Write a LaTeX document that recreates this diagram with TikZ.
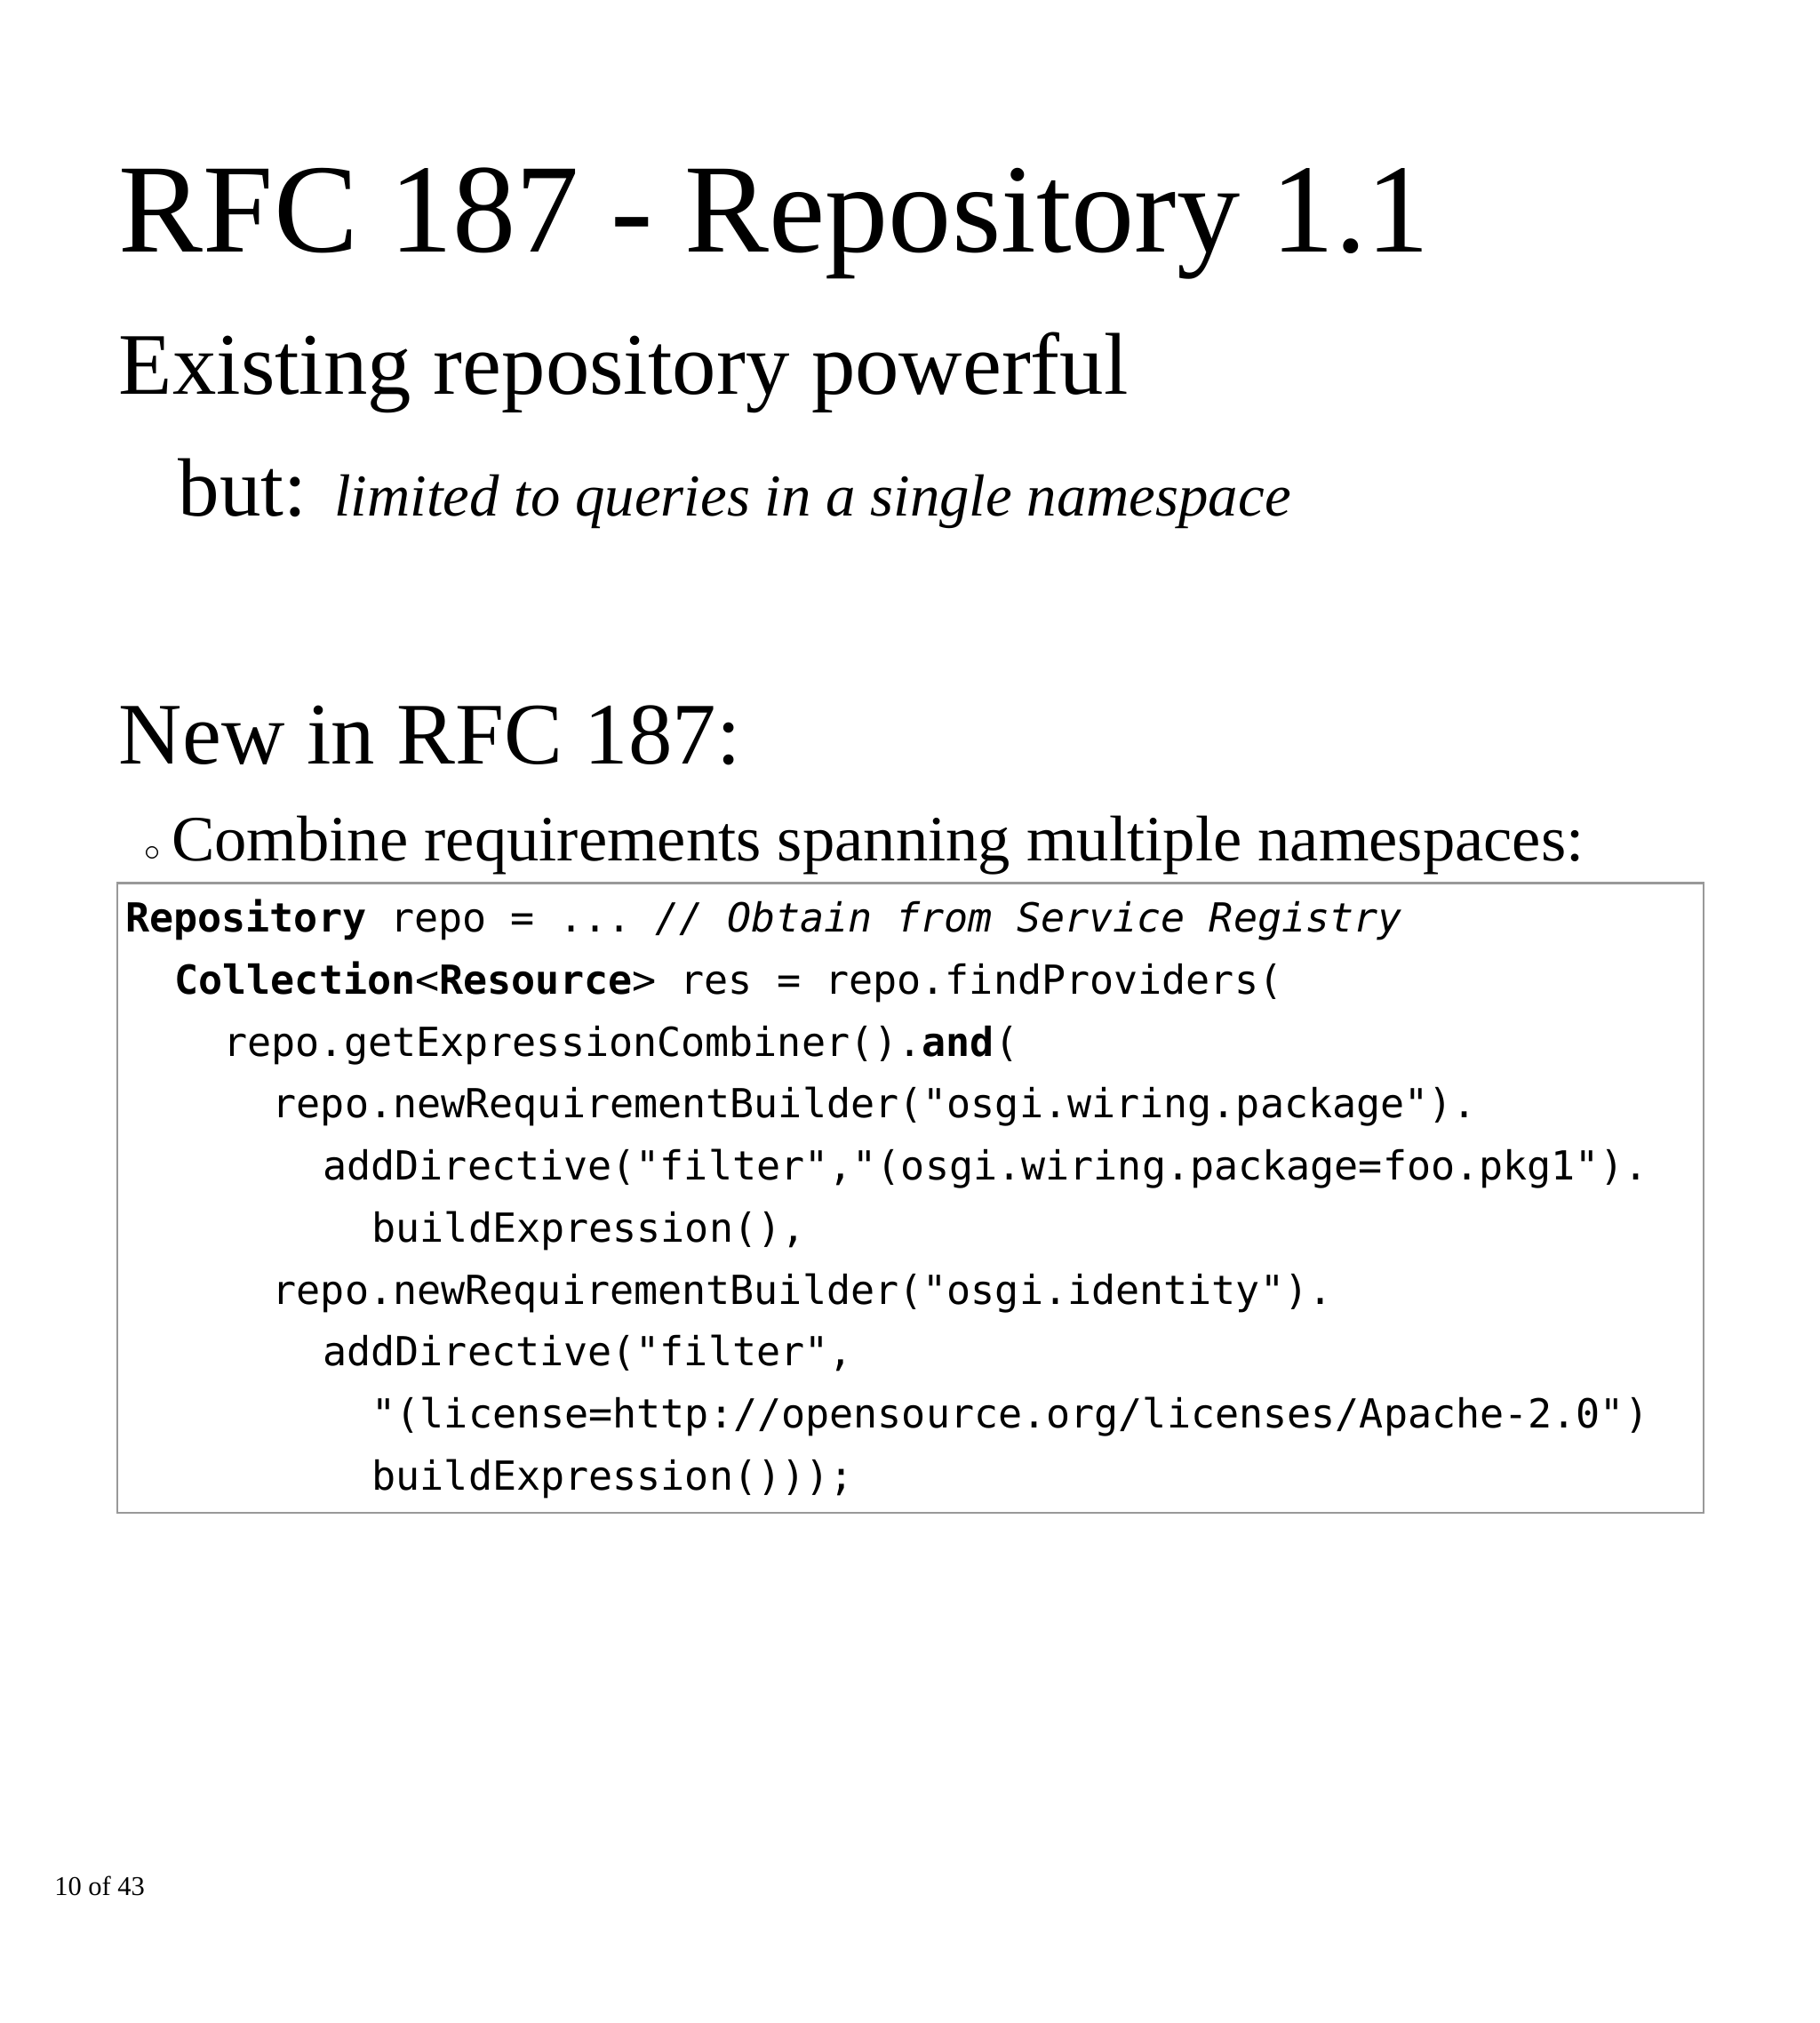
\documentclass[tikz,border=0pt]{standalone}
\usepackage{fontspec}
\setmainfont{Liberation Serif}
\setmonofont{DejaVu Sans Mono}
\begin{document}
\begin{tikzpicture}[x=1pt,y=-1pt,
  t/.style={anchor=base west,inner sep=0pt},
  c/.style={anchor=base west,inner sep=0pt,font=\fontsize{31}{31}\ttfamily}]
\useasboundingbox (0,0) rectangle (1410,1567);
\node[t,font=\fontsize{98}{98}\selectfont] (title) at (92,195) {RFC 187 - Repository 1.1};
\node[t,font=\fontsize{68}{68}\selectfont] (l1) at (92,305) {Existing repository powerful};
\node[t,font=\fontsize{64}{64}\selectfont] (l2) at (138,400) {but: {\fontsize{46}{46}\selectfont\itshape limited to queries in a single namespace}};
\node[t,font=\fontsize{68}{68}\selectfont] (l3) at (92,592) {New in RFC 187:};
\node[t,font=\fontsize{50}{50}\selectfont] (l4) at (112,667) {{\fontsize{34}{34}\selectfont$\circ$}\,Combine requirements spanning multiple namespaces:};
\draw[gray!80,line width=1.5pt] (91,684) rectangle (1320,1172);
\node[c] (c1) at (97,722) {\textbf{Repository} repo = ... \textit{// Obtain from Service Registry}};
\node[c] (c2) at (135,770) {\textbf{Collection}<\textbf{Resource}> res = repo.findProviders(};
\node[c] (c3) at (173,818) {repo.getExpressionCombiner().\textbf{and}(};
\node[c] (c4) at (211,866) {repo.newRequirementBuilder("osgi.wiring.package").};
\node[c] (c5) at (250,914) {addDirective("filter","(osgi.wiring.package=foo.pkg1").};
\node[c] (c6) at (288,962) {buildExpression(),};
\node[c] (c7) at (211,1010) {repo.newRequirementBuilder("osgi.identity").};
\node[c] (c8) at (250,1058) {addDirective("filter",};
\node[c] (c9) at (288,1106) {"(license=http://opensource.org/licenses/Apache-2.0")};
\node[c] (c10) at (288,1154) {buildExpression()));};
\node[t,font=\fontsize{21}{21}\selectfont] (pg) at (42,1468) {10 of 43};
\end{tikzpicture}
\end{document}
